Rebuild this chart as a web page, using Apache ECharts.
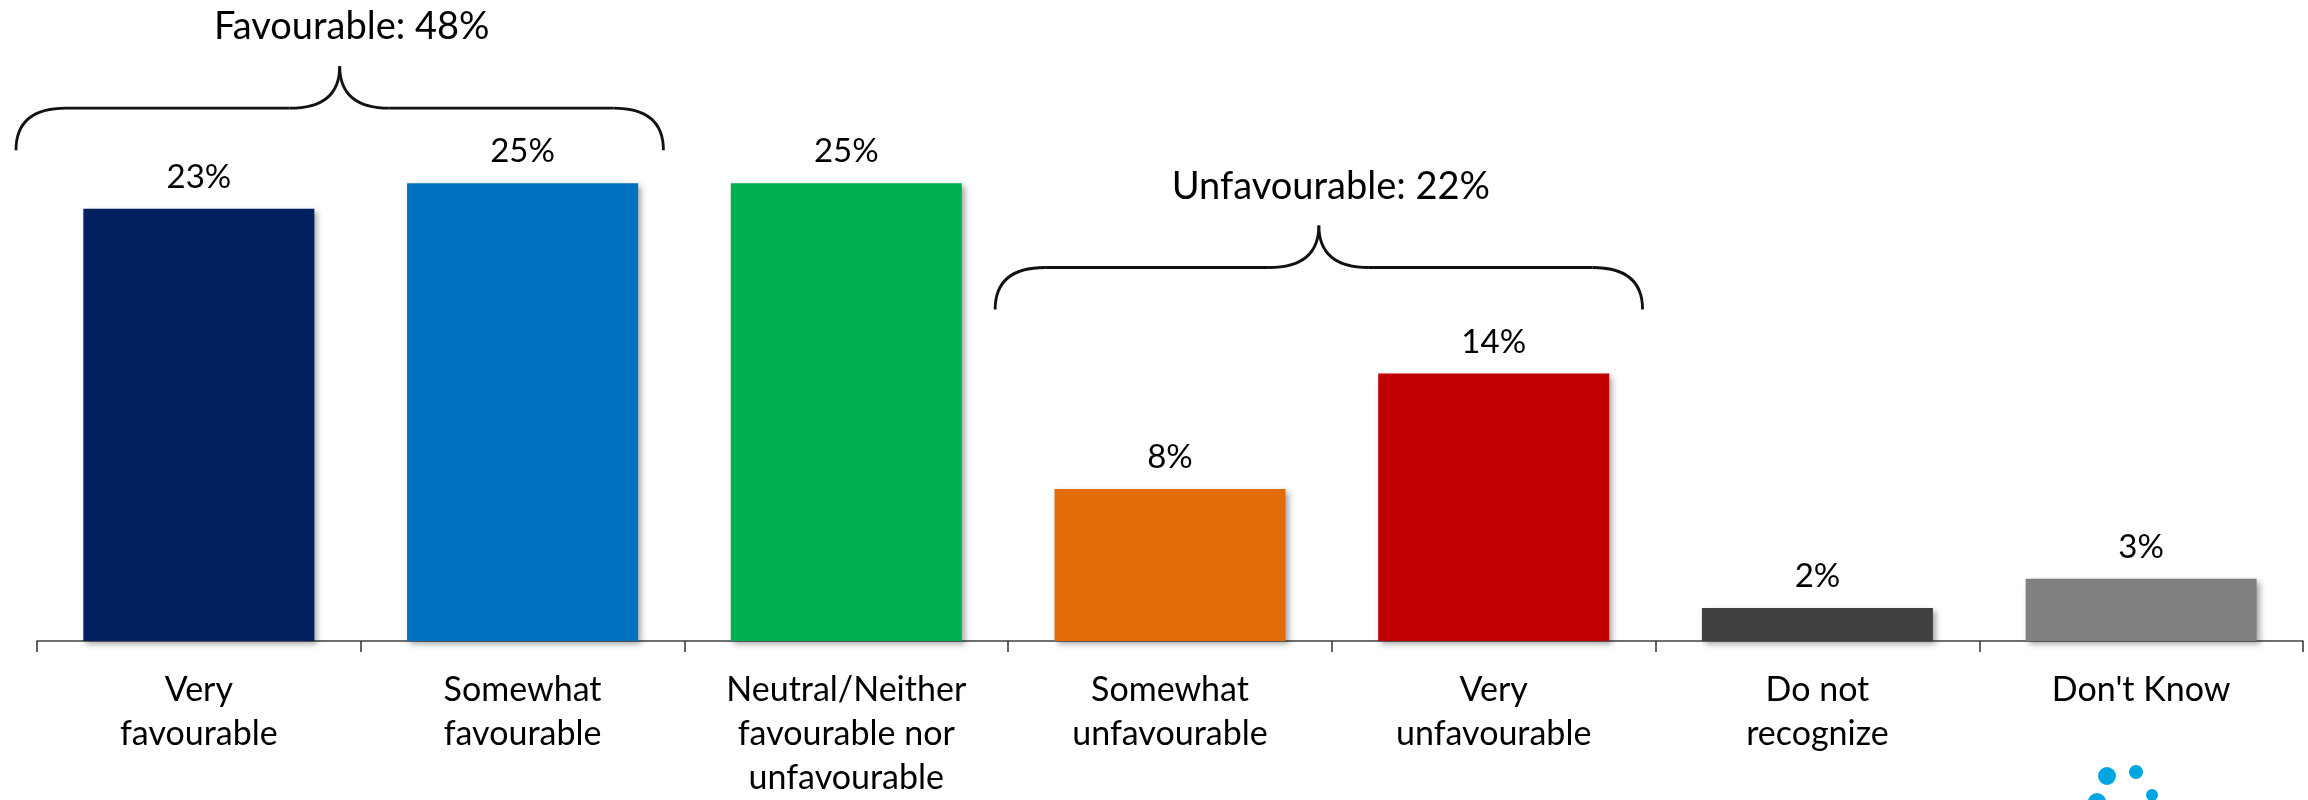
<!DOCTYPE html>
<html>
<head>
<meta charset="utf-8">
<script src="https://cdn.jsdelivr.net/npm/echarts/dist/echarts.min.js"></script>
<style>
html,body{margin:0;padding:0;background:#fff;}
#chart{width:2308px;height:800px;}
</style>
</head>
<body>
<div id="chart"></div>
<script>
// ---- data ----
var categories = ['Very\nfavourable', 'Somewhat\nfavourable', 'Neutral/Neither\nfavourable nor\nunfavourable', 'Somewhat\nunfavourable', 'Very\nunfavourable', 'Do not\nrecognize', "Don't Know"];
var values = [23.6, 25.0, 25.0, 8.3, 14.6, 1.8, 3.4];
var valueLabels = ['23%', '25%', '25%', '8%', '14%', '2%', '3%'];
var barColors = ['#002060', '#0070C0', '#00B050', '#E36C0A', '#C00000', '#404040', '#808080'];
// bracket groups (summary annotations)
var groupLabels = ['Favourable: 48%', 'Unfavourable: 22%'];
var groupStart = [0, 3];
var groupEnd = [1, 4];
var groupBase = [26.8, 18.1];

var FONT = 'Lato, "Open Sans", sans-serif';
var chart = echarts.init(document.getElementById('chart'), null, {renderer: 'canvas'});

var option = {
  animation: false,
  backgroundColor: '#ffffff',
  grid: {left: 37, right: 5, top: 0, bottom: 153, containLabel: false},
  xAxis: {
    type: 'category',
    data: categories,
    boundaryGap: true,
    axisLine: {show: true, lineStyle: {color: '#404040', width: 1.5}},
    axisTick: {show: true, alignWithLabel: false, length: 11, lineStyle: {color: '#303030', width: 1.5}},
    axisLabel: {
      interval: 0, margin: 27, color: '#000', fontSize: 34, lineHeight: 44, fontFamily: FONT, align: 'center'
    }
  },
  yAxis: {type: 'value', min: 0, max: 35, show: false, splitLine: {show: false}},
  series: [{
    type: 'bar',
    barWidth: 231,
    data: values.map(function (v, i) {
      return {value: v, itemStyle: {color: barColors[i]}};
    }),
    itemStyle: {shadowColor: 'rgba(0,0,0,0.35)', shadowBlur: 6, shadowOffsetX: 3, shadowOffsetY: 3},
    label: {
      show: true, position: 'top', distance: 15, color: '#000', fontSize: 33, fontFamily: FONT,
      formatter: function (p) { return valueLabels[p.dataIndex]; }
    }
  }]
};
chart.setOption(option);

function drawAnnotations() {
  var c0 = chart.convertToPixel({xAxisIndex: 0}, categories[0]);
  var c1 = chart.convertToPixel({xAxisIndex: 0}, categories[1]);
  var bw = c1 - c0;
  var offsets = [-21, -13];
  var els = [];
  var lineStyle = {fill: 'none', stroke: '#111', lineWidth: 2.8};
  for (var g = 0; g < groupLabels.length; g++) {
    var xs = chart.convertToPixel({xAxisIndex: 0}, categories[groupStart[g]]) - bw / 2 + offsets[g];
    var xe = chart.convertToPixel({xAxisIndex: 0}, categories[groupEnd[g]]) + bw / 2 + offsets[g];
    var yb = chart.convertToPixel({yAxisIndex: 0}, groupBase[g]);
    var h = 42, r = 50;
    var yf = yb - h, yt = yb - 2 * h;
    var xc = (xs + xe) / 2;
    var curves = [
      [xs, yb, xs + r, yf, xs, yf],
      [xc - r, yf, xc, yt, xc, yf],
      [xc, yt, xc + r, yf, xc, yf],
      [xe - r, yf, xe, yb, xe, yf]
    ];
    curves.forEach(function (q) {
      els.push({type: 'bezierCurve', silent: true,
        shape: {x1: q[0], y1: q[1], x2: q[2], y2: q[3], cpx1: q[4], cpy1: q[5]},
        style: lineStyle});
    });
    els.push({type: 'line', silent: true, shape: {x1: xs + r, y1: yf, x2: xc - r, y2: yf}, style: lineStyle});
    els.push({type: 'line', silent: true, shape: {x1: xc + r, y1: yf, x2: xe - r, y2: yf}, style: lineStyle});
    els.push({
      type: 'text', silent: true,
      x: xc + 12, y: yt - 39,
      style: {text: groupLabels[g], fontSize: 38, fontFamily: FONT, fill: '#000', align: 'center', verticalAlign: 'middle'}
    });
  }
  // decorative logo dots (partially visible) bottom right
  var dots = [[2107, 776, 9], [2136, 772, 7], [2152, 795, 6], [2097, 802, 9]];
  dots.forEach(function (p) {
    els.push({type: 'circle', silent: true, shape: {cx: p[0], cy: p[1], r: p[2]}, style: {fill: '#00A6E2'}});
  });
  chart.setOption({graphic: {elements: els}});
}
drawAnnotations();
</script>
</body>
</html>
